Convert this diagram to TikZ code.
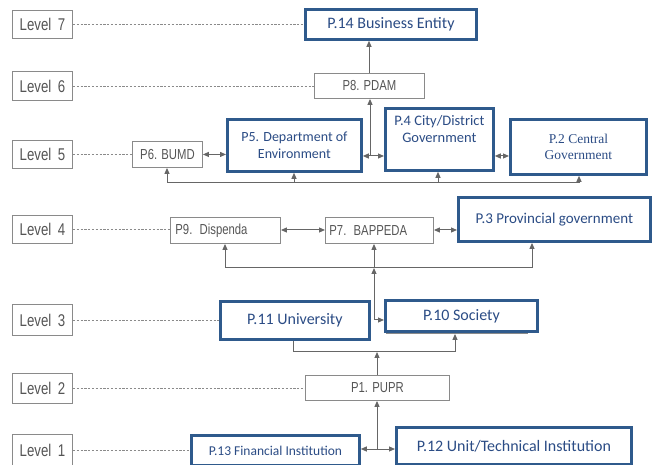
\documentclass[tikz,border=0pt]{standalone}
\usepackage{fontspec}
\usetikzlibrary{arrows.meta}
\newfontfamily\narrowfont[FakeStretch=0.78]{Liberation Sans}
\newfontfamily\calfont{Carlito}
\newfontfamily\serfont{Liberation Serif}
\definecolor{bblue}{HTML}{2F5A8C}
\definecolor{btext}{HTML}{2B4C85}
\definecolor{gline}{HTML}{8A8A8A}
\definecolor{gtext}{HTML}{555555}
\definecolor{cline}{HTML}{666666}
\tikzset{
  lvl/.style={draw=gline, line width=0.9pt, text=gtext, font=\narrowfont\fontsize{17}{19}\selectfont,
    anchor=north west, minimum width=60pt, inner sep=0pt, align=center},
  gbox/.style={draw=gline, line width=0.9pt, text=gtext, font=\narrowfont\fontsize{14.5}{16}\selectfont,
    anchor=north west, inner sep=0pt, align=center},
  shadowbox/.style={draw=gline, line width=0.9pt, fill=white, anchor=north west, inner sep=0pt},
  bbox/.style={draw=bblue, line width=2.8pt, fill=white, text=btext, font=\calfont\fontsize{16}{19}\selectfont,
    anchor=north west, inner sep=0pt, align=center},
  conn/.style={draw=cline, line width=1pt},
  arr/.style={conn, -{Stealth[length=6pt,width=5pt,inset=0pt]}},
  darr/.style={conn, {Stealth[length=6pt,width=5pt,inset=0pt]}-{Stealth[length=6pt,width=5pt,inset=0pt]}},
  lead/.style={draw=gline, line width=0.8pt, dash pattern=on 2.2pt off 1.6pt}
}
\begin{document}
\begin{tikzpicture}[x=1pt,y=-1pt]
\useasboundingbox (0,0) rectangle (654,465);
% level boxes
\node[lvl, minimum height=28pt] (L7) at (12,10) {Level\ \,7};
\node[lvl, minimum height=29pt] (L6) at (12,71) {Level\ \,6};
\node[lvl, minimum height=28pt] (L5) at (12,140) {Level\ \,5};
\node[lvl, minimum height=28pt] (L4) at (12,215) {Level\ \,4};
\node[lvl, minimum height=31pt] (L3) at (12,304) {Level\ \,3};
\node[lvl, minimum height=30pt] (L2) at (12,373) {Level\ \,2};
\node[lvl, minimum height=32pt] (L1) at (12,434) {Level\ \,1};
% level 7
\node[bbox, minimum width=171pt, minimum height=30pt] (P14) at (304,8) {P.14 Business Entity};
% level 6
\node[gbox, minimum width=110pt, minimum height=25pt] (P8) at (314,73) {P8. PDAM};
% level 5
\node[gbox, minimum width=70pt, minimum height=26pt] (P6) at (132,141) {P6. BUMD};
\node[bbox, minimum width=134pt, minimum height=52pt, font=\calfont\fontsize{14}{17}\selectfont] (P5) at (226,118) {P5. Department of\\Environment};
\node[bbox, minimum width=108pt, minimum height=62pt, font=\calfont\fontsize{14.5}{17}\selectfont] (P4) at (384,107) {P.4 City/District\\Government\\[3pt]};
\node[bbox, minimum width=136pt, minimum height=55pt, font=\serfont\fontsize{13.5}{16}\selectfont] (P2) at (509,118) {P.2 Central\\Government};
% level 4
\node[gbox, minimum width=110pt, minimum height=26pt, text width=100pt, align=left] (P9) at (170,217) {P9. Dispenda};
\node[gbox, minimum width=108pt, minimum height=26pt, text width=100pt, align=left] (P7) at (325,217) {P7. BAPPEDA};
\node[shadowbox, minimum width=146pt, minimum height=26pt] (S3) at (457,216) {};
\node[bbox, minimum width=192pt, minimum height=44pt, font=\calfont\fontsize{15}{18}\selectfont] (P3) at (457,196) {P.3 Provincial government};
% level 3
\node[bbox, minimum width=149pt, minimum height=38pt] (P11) at (219,300) {P.11 University};
\node[shadowbox, minimum width=141pt, minimum height=26pt] (S10) at (386,307) {};
\node[bbox, minimum width=152pt, minimum height=31pt] (P10) at (384,299) {P.10 Society};
% level 2
\node[gbox, minimum width=144pt, minimum height=25pt] (P1) at (305,375) {P1. PUPR};
% level 1
\node[bbox, minimum width=168pt, minimum height=30pt, font=\calfont\fontsize{13.5}{16}\selectfont] (P13) at (190,434) {P.13 Financial Institution};
\node[bbox, minimum width=235pt, minimum height=37pt] (P12) at (395,426) {P.12 Unit/Technical Institution};
% leader lines
\draw[lead] (L7.east) -- (L7.east -| P14.west);
\draw[lead] (L6.east) -- (L6.east -| P8.west);
\draw[lead] (L5.east) -- (L5.east -| P6.west);
\draw[lead] (L4.east) -- (L4.east -| P9.west);
\draw[lead] (L3.east) -- (L3.east -| P11.west);
\draw[lead] (L2.east) -- (L2.east -| P1.west);
\draw[lead] (L1.east) -- (L1.east -| P13.west);
% level 6 -> 7
\coordinate (c8) at (369,0);
\draw[arr] (c8 |- P8.north) -- (c8 |- P14.south);
% level 5
\coordinate (j5) at (370,156);
\draw[darr] (P5.east |- j5) -- (P4.west |- j5);
\draw[arr] (j5) -- (j5 |- P8.south);
\draw[darr] (P6.east) -- (P5.west |- P6.east);
\draw[darr] (P4.east |- j5) -- (P2.west |- j5);
\coordinate (b5) at (0,183);
\coordinate (x6) at (167,0);
\coordinate (x5) at (294,0);
\coordinate (x4) at (438,0);
\coordinate (x2) at (579,0);
\draw[conn] (x6 |- b5) -- (x2 |- b5);
\draw[arr] (x6 |- b5) -- (x6 |- P6.south);
\draw[arr] (x5 |- b5) -- (x5 |- P5.south);
\draw[arr] (x4 |- b5) -- (x4 |- P4.south);
\draw[arr] (x2 |- b5) -- (x2 |- P2.south);
% level 4
\coordinate (r4) at (0,230);
\draw[darr] (P9.east |- r4) -- (P7.west |- r4);
\draw[darr] (P7.east |- r4) -- (P3.west |- r4);
\coordinate (b4) at (0,268);
\coordinate (x9) at (225,0);
\coordinate (x7) at (374,0);
\coordinate (x3) at (532,0);
\draw[conn] (x9 |- b4) -- (x3 |- b4);
\draw[arr] (x9 |- b4) -- (x9 |- P9.south);
\draw[arr] (x7 |- b4) -- (x7 |- P7.south);
\draw[arr] (x3 |- b4) -- (x3 |- S3.south);
% level 3 -> 4
\coordinate (j3) at (374,320);
\draw[arr] (j3) -- (x7 |- b4);
\draw[arr] (j3) -- (P10.west |- j3);
% level 3 bus
\coordinate (b3) at (0,352);
\coordinate (x11) at (293,0);
\coordinate (x10) at (455,0);
\coordinate (x1) at (377,0);
\draw[conn] (x11 |- P11.south) -- (x11 |- b3) -- (x10 |- b3);
\draw[arr] (x10 |- b3) -- (x10 |- S10.south);
\draw[arr] (x1 |- P1.north) -- (x1 |- b3);
% level 1
\coordinate (j1) at (377,449);
\draw[darr] (P13.east |- j1) -- (P12.west |- j1);
\draw[arr] (j1) -- (j1 |- P1.south);
\end{tikzpicture}
\end{document}
